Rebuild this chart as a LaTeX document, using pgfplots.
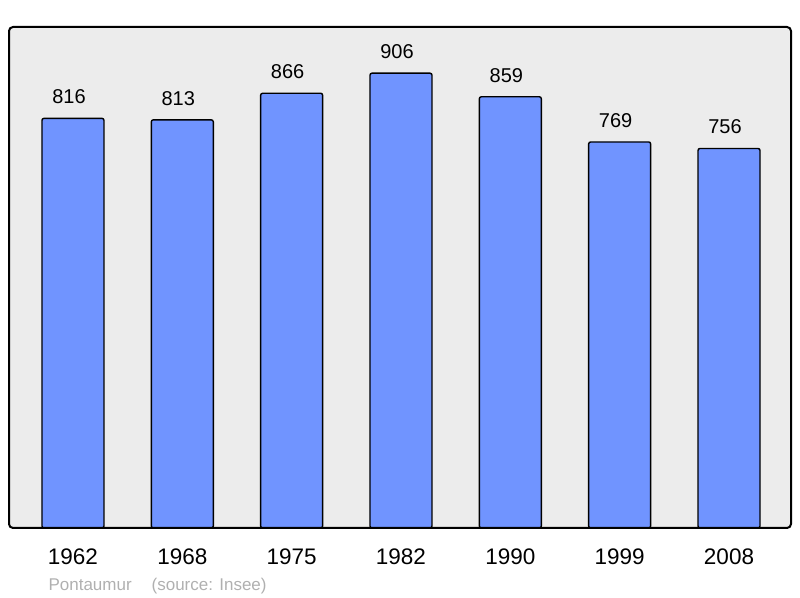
\documentclass[border=0pt]{standalone}
\usepackage{fontspec}
\setmainfont{Liberation Sans}
\usepackage{pgfplots}
\pgfplotsset{compat=1.18}
\definecolor{barblue}{HTML}{7094FF}
\definecolor{plotbg}{HTML}{ECECEC}
\definecolor{footgray}{HTML}{B0B0B0}

\begin{document}
\begin{tikzpicture}
\begin{axis}[
  name=ax,
  scale only axis,
  width=782pt,height=501pt,
  xmin=-0.585,xmax=6.567,
  ymin=0,ymax=998,
  ybar,bar width=62pt,
  axis line style={draw=none},
  axis background/.style={fill=plotbg},
  ytick=\empty,
  xtick=data,
  xticklabels={1962,1968,1975,1982,1990,1999,2008},
  major tick length=0pt,
  xticklabel style={font=\fontsize{22.5}{26}\selectfont,yshift=-17.5pt},
  /pgf/number format/assume math mode=true,
  nodes near coords,
  nodes near coords style={font=\fontsize{20}{24}\selectfont,text=black,xshift=-4pt,yshift=10.5pt},
  after end axis/.code={
    \draw[line width=2pt,rounded corners=4pt] (rel axis cs:0,0) rectangle (rel axis cs:1,1);
  },
]
\addplot[draw=black,line width=1.4pt,fill=barblue,rounded corners=2pt]
  coordinates {(0,816)(1,813)(2,866)(3,906)(4,859)(5,769)(6,756)};
\end{axis}
\node[anchor=base west,text=footgray,font=\fontsize{17}{20}\selectfont]
  at ([xshift=36pt,yshift=-63pt]ax.south west) {Pontaumur\hspace{20pt}(source: Insee)};
\path ([xshift=-9pt,yshift=-70pt]ax.south west) rectangle ([xshift=9pt,yshift=27pt]ax.north east);
\end{tikzpicture}
\end{document}
